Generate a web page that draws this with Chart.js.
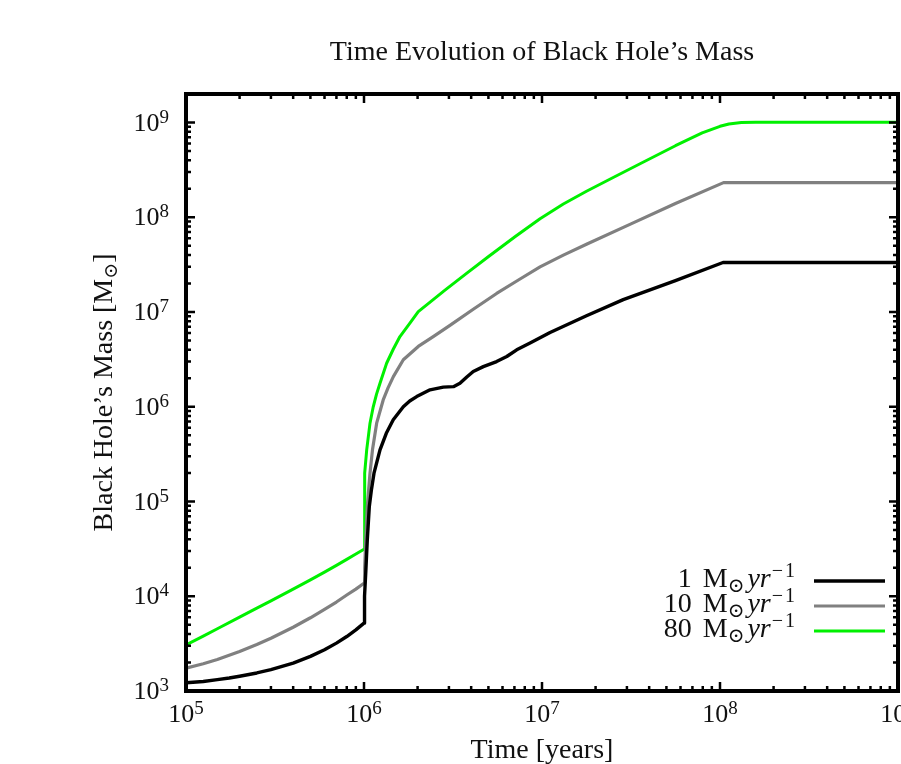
<!DOCTYPE html>
<html>
<head>
<meta charset="utf-8">
<title>Time Evolution of Black Hole's Mass</title>
<script src="https://cdn.jsdelivr.net/npm/chart.js@4.4.2/dist/chart.umd.min.js"></script>
<style>
  html, body { margin: 0; padding: 0; background: #fff; }
  canvas { display: block; }
</style>
</head>
<body>
<canvas id="grafico" width="901" height="764"></canvas>
<script>
// Accretion rates (M_sun / yr) for each run
const rates = ['1', '10', '80'];
const colors = ['#000000', '#808080', '#00f000'];
const widths = [3.4, 3.2, 3];

// Time in years, mass in solar masses
const tiempo1 = [1e5, 1.25e5, 1.5e5, 1.75e5, 2e5, 2.5e5, 3e5, 4e5, 5e5, 6e5, 7e5, 8e5, 9e5, 1e6,
  1.0046e6, 1.0093e6, 1.0224e6, 1.0435e6, 1.071e6, 1.102e6, 1.138e6, 1.23e6, 1.334e6, 1.46e6,
  1.663e6, 1.807e6, 1.977e6, 2.35e6, 2.79e6, 3.18e6, 3.46e6, 3.78e6, 4.11e6, 4.68e6,
  5.56e6, 6.34e6, 7.21e6, 8.57e6, 1.11e7, 1.778e7, 2.86e7, 5.62e7, 1.04e8, 1e9];
const masa1 = [1.22e3, 1.26e3, 1.32e3, 1.37e3, 1.43e3, 1.55e3, 1.68e3, 1.97e3, 2.32e3, 2.72e3, 3.2e3, 3.76e3, 4.42e3, 5.2e3,
  7.08e3, 1.0e4, 1.75e4, 3.93e4, 8.83e4, 1.35e5, 1.99e5, 3.51e5, 5.25e5, 7.28e5,
  1.0e6, 1.15e6, 1.28e6, 1.51e6, 1.61e6, 1.63e6, 1.77e6, 2.06e6, 2.36e6, 2.65e6,
  3.0e6, 3.39e6, 3.99e6, 4.7e6, 6.08e6, 9.12e6, 1.35e7, 2.14e7, 3.33e7, 3.33e7];

const tiempo10 = [1e5, 1.25e5, 1.5e5, 2e5, 2.5e5, 3e5, 4e5, 5e5, 6e5, 7e5, 8e5, 9e5, 1e6,
  1.0093e6, 1.0224e6, 1.0435e6, 1.0807e6, 1.116e6, 1.178e6, 1.282e6, 1.365e6, 1.462e6, 1.663e6,
  2.018e6, 2.449e6, 3.04e6, 4.11e6, 5.56e6, 7.41e6, 9.75e6, 1.318e7, 1.778e7, 3.162e7, 5.62e7, 1.047e8, 1e9];
const masa10 = [1.74e3, 1.94e3, 2.15e3, 2.61e3, 3.09e3, 3.6e3, 4.71e3, 5.93e3, 7.26e3, 8.69e3, 1.03e4, 1.19e4, 1.37e4,
  2.0e4, 3.93e4, 8.83e4, 1.99e5, 3.51e5, 6.71e5, 1.18e6, 1.58e6, 2.08e6, 3.13e6,
  4.33e6, 5.5e6, 7.24e6, 1.07e7, 1.57e7, 2.19e7, 2.99e7, 3.98e7, 5.19e7, 8.51e7, 1.4e8, 2.32e8, 2.32e8];

const tiempo80 = [1e5, 1.25e5, 1.5e5, 2e5, 2.5e5, 3e5, 4e5, 5e5, 6e5, 7e5, 8e5, 9e5, 1e6,
  1.0046e6, 1.013e6, 1.0356e6, 1.0807e6, 1.127e6, 1.175e6, 1.23e6, 1.34e6, 1.462e6, 1.592e6, 1.811e6,
  2.018e6, 2.399e6, 2.851e6, 3.8e6, 5.01e6, 7.08e6, 9.75e6, 1.318e7, 1.778e7, 2.512e7, 3.556e7,
  5.62e7, 7.94e7, 1e8, 1.122e8, 1.318e8, 1.585e8, 1e9];
const masa80 = [3.06e3, 3.8e3, 4.54e3, 6.01e3, 7.48e3, 8.95e3, 1.19e4, 1.49e4, 1.8e4, 2.12e4, 2.45e4, 2.79e4, 3.14e4,
  7.9e4, 1.99e5, 3.51e5, 6.71e5, 1.0e6, 1.35e6, 1.77e6, 2.88e6, 4.07e6, 5.51e6, 7.64e6,
  1.01e7, 1.31e7, 1.7e7, 2.59e7, 3.86e7, 6.27e7, 9.66e7, 1.38e8, 1.88e8, 2.63e8, 3.67e8,
  5.69e8, 7.76e8, 9.12e8, 9.66e8, 1.0e9, 1.007e9, 1.007e9];

// Decade exponents used for tick labels
const xExponentes = [5, 6, 7, 8, 9];
const yExponentes = [3, 4, 5, 6, 7, 8, 9];

const SERIF = '"Liberation Serif", "DejaVu Serif", serif';

function toPoints(ts, ms) {
  return ts.map((t, i) => ({ x: t, y: ms[i] }));
}

// Draw a run of text pieces with different size / rise / style / extra gap
function drawRich(ctx, parts, x, y, align) {
  const fontOf = p => `${p.italic ? 'italic ' : ''}${p.size}px ${SERIF}`;
  let w = 0;
  for (const p of parts) { ctx.font = fontOf(p); w += ctx.measureText(p.text).width + (p.gap || 0); }
  let cx = align === 'right' ? x - w : align === 'center' ? x - w / 2 : x;
  ctx.textAlign = 'left';
  ctx.textBaseline = 'alphabetic';
  for (const p of parts) {
    ctx.font = fontOf(p);
    ctx.fillText(p.text, cx, y - (p.rise || 0));
    cx += ctx.measureText(p.text).width + (p.gap || 0);
  }
}

const pow10 = e => [
  { text: '10', size: 26 },
  { text: String(e), size: 19, rise: 8 }
];

// Frame, inward ticks, labels and key in gnuplot style
const marcoPlugin = {
  id: 'marco',
  afterDraw(chart) {
    const { ctx, chartArea: a, scales } = chart;
    const sx = scales.x, sy = scales.y;
    ctx.save();
    ctx.strokeStyle = '#000';
    ctx.fillStyle = '#111';

    // ticks
    ctx.lineWidth = 2.5;
    ctx.beginPath();
    for (let e = 5; e <= 9; e++) {
      for (let k = 1; k <= 9; k++) {
        const v = k * Math.pow(10, e);
        if (v > sx.max * 1.0001) break;
        const px = sx.getPixelForValue(v);
        const len = k === 1 ? 9 : 5;
        ctx.moveTo(px, a.bottom); ctx.lineTo(px, a.bottom - len);
        ctx.moveTo(px, a.top); ctx.lineTo(px, a.top + len);
      }
    }
    for (let e = 3; e <= 9; e++) {
      for (let k = 1; k <= 9; k++) {
        const v = k * Math.pow(10, e);
        if (v > sy.max) break;
        const py = sy.getPixelForValue(v);
        const len = k === 1 ? 9 : 5;
        ctx.moveTo(a.left, py); ctx.lineTo(a.left + len, py);
        ctx.moveTo(a.right, py); ctx.lineTo(a.right - len, py);
      }
    }
    ctx.stroke();

    // border
    ctx.lineWidth = 4;
    ctx.strokeRect(a.left, a.top, a.right - a.left, a.bottom - a.top);

    // tick labels
    yExponentes.forEach(e => {
      const py = sy.getPixelForValue(Math.pow(10, e));
      drawRich(ctx, pow10(e), 169, py + 8, 'right');
    });
    xExponentes.forEach(e => {
      const px = sx.getPixelForValue(Math.pow(10, e));
      drawRich(ctx, pow10(e), px, 722, 'center');
    });

    // title and axis titles
    const cx = (a.left + a.right) / 2;
    drawRich(ctx, [{ text: "Time Evolution of Black Hole\u2019s Mass", size: 28 }], cx, 60, 'center');
    drawRich(ctx, [{ text: 'Time [years]', size: 28 }], cx, 758, 'center');

    ctx.save();
    ctx.translate(112, (a.top + a.bottom) / 2);
    ctx.rotate(-Math.PI / 2);
    drawRich(ctx, [
      { text: 'Black Hole\u2019s Mass [M', size: 28 },
      { text: '\u2299', size: 19, rise: -5 },
      { text: ']', size: 28 }
    ], 0, 0, 'center');
    ctx.restore();

    // key
    chart.data.datasets.forEach((ds, i) => {
      const yRow = 581 + i * 25;
      drawRich(ctx, [
        { text: rates[i] + ' ', size: 28, gap: 4 },
        { text: 'M', size: 28 },
        { text: '\u2299', size: 20, rise: -5, gap: 3 },
        { text: 'yr', size: 28, italic: true, gap: 1 },
        { text: '\u2212', size: 20, rise: 10, gap: 2 },
        { text: '1', size: 20, rise: 10 }
      ], 795, yRow + 6, 'right');
      ctx.strokeStyle = ds.borderColor;
      ctx.lineWidth = ds.borderWidth;
      ctx.beginPath();
      ctx.moveTo(814, yRow);
      ctx.lineTo(885, yRow);
      ctx.stroke();
    });
    ctx.restore();
  }
};

const series = [
  toPoints(tiempo1, masa1),
  toPoints(tiempo10, masa10),
  toPoints(tiempo80, masa80)
];

new Chart(document.getElementById('grafico').getContext('2d'), {
  type: 'line',
  data: {
    datasets: series.map((pts, i) => ({
      label: rates[i] + ' M\u2299 yr\u207b\u00b9',
      data: pts,
      borderColor: colors[i],
      borderWidth: widths[i],
      borderJoinStyle: 'round',
      pointRadius: 0,
      tension: 0,
      fill: false
    }))
  },
  options: {
    responsive: false,
    devicePixelRatio: 1,
    animation: false,
    events: [],
    layout: { padding: { left: 186, top: 94, right: 3, bottom: 73 } },
    plugins: {
      legend: { display: false },
      tooltip: { enabled: false }
    },
    scales: {
      x: { type: 'logarithmic', min: 1e5, max: 1e9, display: false },
      y: { type: 'logarithmic', min: 1e3, max: 2e9, display: false }
    }
  },
  plugins: [marcoPlugin]
});
</script>
</body>
</html>
